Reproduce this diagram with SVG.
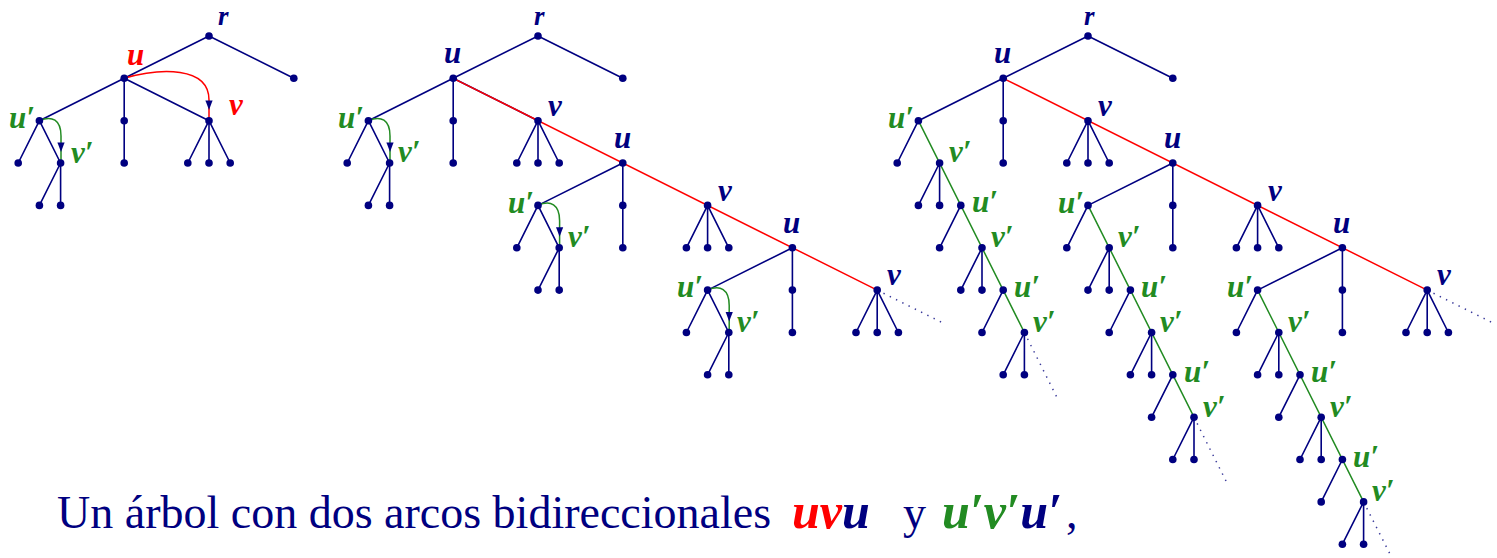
<svg xmlns="http://www.w3.org/2000/svg" xmlns:xlink="http://www.w3.org/1999/xlink" width="1497" height="558" viewBox="0 0 1497 558">
<style>
.e{stroke:#000080;stroke-width:1.6;fill:none;stroke-linecap:round}
.rl{stroke:#ff0000;stroke-width:1.5;fill:none}
.gl{stroke:#228b22;stroke-width:1.5;fill:none}
.dt{stroke:#3a3a9a;stroke-width:1.5;fill:none;stroke-dasharray:1.4 5.6}
.ah{fill:#000080}
.n{fill:#000080}
.lb{font-family:"Liberation Serif","DejaVu Serif",serif;font-weight:bold;font-style:italic;font-size:31px}
.rr{font-size:27px}
.nv{fill:#000080}.rd{fill:#ff0000}.gr{fill:#228b22}
.cap{font-family:"Liberation Serif","DejaVu Serif",serif;font-size:46px;fill:#000080}
.m{font-weight:bold;font-style:italic;font-size:50px}
</style>
<defs>
<circle id="d" r="3.8" class="n"/>
<path id="ah" d="M-3.6,-9.5 L3.6,-9.5 L0,0 Z"/>
</defs>
<rect width="1497" height="558" fill="#fff"/>
<g id="connectors">
<path class="e" d="M209,36L124.2,78.3M209,36L293.8,78.3M124.2,78.3L39.4,120.7M124.2,78.3V163M124.2,78.3L209,120.7M209,120.7L187.8,163M209,120.7V163M209,120.7L230.2,163M39.4,120.7L18.2,163M39.4,120.7L60.6,163M60.6,163L39.4,205.4M60.6,163V205.4"/>
<path class="e" d="M538,36L453.2,78.3M538,36L622.8,78.3M453.2,78.3L368.4,120.7M453.2,78.3V163M453.2,78.3L538,120.7M538,120.7L516.8,163M538,120.7V163M538,120.7L559.2,163M368.4,120.7L347.2,163M368.4,120.7L389.6,163M389.6,163L368.4,205.4M389.6,163V205.4M622.8,163L538,205.4M622.8,163V247.8M707.6,205.4L686.4,247.8M707.6,205.4V247.8M707.6,205.4L728.8,247.8M538,205.4L516.8,247.8M538,205.4L559.2,247.8M559.2,247.8L538,290.1M559.2,247.8V290.1M792.4,247.8L707.6,290.1M792.4,247.8V332.5M877.2,290.1L856,332.5M877.2,290.1V332.5M877.2,290.1L898.4,332.5M707.6,290.1L686.4,332.5M707.6,290.1L728.8,332.5M728.8,332.5L707.6,374.8M728.8,332.5V374.8"/>
<path class="e" d="M1088,36L1003.2,78.3M1088,36L1172.8,78.3M1003.2,78.3L918.4,120.7M1003.2,78.3V163M1088,120.7L1066.8,163M1088,120.7V163M1088,120.7L1109.2,163M918.4,120.7L897.2,163M939.6,163L918.4,205.4M939.6,163V205.4M960.8,205.4L939.6,247.8M982,247.8L960.8,290.1M982,247.8V290.1M1003.2,290.1L982,332.5M1024.4,332.5L1003.2,374.8M1024.4,332.5V374.8M1172.8,163L1088,205.4M1172.8,163V247.8M1257.6,205.4L1236.4,247.8M1257.6,205.4V247.8M1257.6,205.4L1278.8,247.8M1088,205.4L1066.8,247.8M1109.2,247.8L1088,290.1M1109.2,247.8V290.1M1130.4,290.1L1109.2,332.5M1151.6,332.5L1130.4,374.8M1151.6,332.5V374.8M1172.8,374.8L1151.6,417.2M1194,417.2L1172.8,459.5M1194,417.2V459.5M1342.4,247.8L1257.6,290.1M1342.4,247.8V332.5M1427.2,290.1L1406,332.5M1427.2,290.1V332.5M1427.2,290.1L1448.4,332.5M1257.6,290.1L1236.4,332.5M1278.8,332.5L1257.6,374.8M1278.8,332.5V374.8M1300,374.8L1278.8,417.2M1321.2,417.2L1300,459.5M1321.2,417.2V459.5M1342.4,459.5L1321.2,501.9M1363.6,501.9L1342.4,544.2M1363.6,501.9V544.2"/>
<path class="rl" d="M453.2,78.3L877.2,290.1M1003.2,78.3L1427.2,290.1"/>
<path class="gl" d="M918.4,120.7L1024.4,332.5M1088,205.4L1194,417.2M1257.6,290.1L1363.6,501.9"/>
<path class="dt" d="M877.2,290.1L942,322.5M1427.2,290.1L1492,322.5M1024.4,332.5L1057,397.5M1194,417.2L1226.5,482M1363.6,501.9L1392,558"/>
<path class="rl" d="M124.2,78.3C160,68 209,66 209,100V120.7"/>
<use href="#ah" class="ah" x="209" y="110"/>
<path class="gl" d="M39.4,120.7C52,115 61,120 61,136V163"/>
<use href="#ah" class="ah" x="61" y="152"/>
<path class="gl" d="M368.4,120.7C381,115 390,120 390,136V163"/>
<use href="#ah" class="ah" x="390" y="152"/>
<path class="gl" d="M538,205.4C550.6,199.7 559.6,204.7 559.6,220.7V247.8"/>
<use href="#ah" class="ah" x="559.6" y="236.7"/>
<path class="gl" d="M707.6,290.1C720.2,284.4 729.2,289.4 729.2,305.4V332.5"/>
<use href="#ah" class="ah" x="729.2" y="321.4"/>
</g>
<g id="tree1">
<g id="t1-r"><use href="#d" x="209" y="36"/><text class="lb rr nv" x="218" y="25">r</text></g>
<g id="t1-a"><use href="#d" x="293.8" y="78.3"/></g>
<g id="t1-u"><use href="#d" x="124.2" y="78.3"/><text class="lb rd" x="127" y="65">u</text></g>
<g id="t1-m1"><use href="#d" x="124.2" y="120.7"/></g>
<g id="t1-m2"><use href="#d" x="124.2" y="163"/></g>
<g id="t1-v"><use href="#d" x="209" y="120.7"/><text class="lb rd" x="229" y="115">v</text></g>
<g id="t1-v-c1"><use href="#d" x="187.8" y="163"/></g>
<g id="t1-v-c2"><use href="#d" x="209" y="163"/></g>
<g id="t1-v-c3"><use href="#d" x="230.2" y="163"/></g>
<g id="t1-up"><use href="#d" x="39.4" y="120.7"/><text class="lb gr" x="35" y="128" text-anchor="end">u′</text></g>
<g id="t1-up-l"><use href="#d" x="18.2" y="163"/></g>
<g id="t1-vp"><use href="#d" x="60.6" y="163"/><text class="lb gr" x="71" y="163">v′</text></g>
<g id="t1-vp-c1"><use href="#d" x="39.4" y="205.4"/></g>
<g id="t1-vp-c2"><use href="#d" x="60.6" y="205.4"/></g>
</g>
<g id="tree2">
<g id="t2-r"><use href="#d" x="538" y="36"/><text class="lb rr nv" x="534" y="25">r</text></g>
<g id="t2-a"><use href="#d" x="622.8" y="78.3"/></g>
<g id="t2-u1"><use href="#d" x="453.2" y="78.3"/><text class="lb nv" x="444" y="63">u</text></g>
<g id="t2-up1"><use href="#d" x="368.4" y="120.7"/><text class="lb gr" x="364" y="128" text-anchor="end">u′</text></g>
<g id="t2-m1a"><use href="#d" x="453.2" y="120.7"/></g>
<g id="t2-m1b"><use href="#d" x="453.2" y="163"/></g>
<g id="t2-v1"><use href="#d" x="538" y="120.7"/><text class="lb nv" x="548" y="116">v</text></g>
<g id="t2-v1c1"><use href="#d" x="516.8" y="163"/></g>
<g id="t2-v1c2"><use href="#d" x="538" y="163"/></g>
<g id="t2-v1c3"><use href="#d" x="559.2" y="163"/></g>
<g id="t2-up1l"><use href="#d" x="347.2" y="163"/></g>
<g id="t2-vp1"><use href="#d" x="389.6" y="163"/><text class="lb gr" x="398" y="162">v′</text></g>
<g id="t2-vp1c1"><use href="#d" x="368.4" y="205.4"/></g>
<g id="t2-vp1c2"><use href="#d" x="389.6" y="205.4"/></g>
<g id="t2-u2"><use href="#d" x="622.8" y="163"/><text class="lb nv" x="614" y="148">u</text></g>
<g id="t2-up2"><use href="#d" x="538" y="205.4"/><text class="lb gr" x="534" y="213" text-anchor="end">u′</text></g>
<g id="t2-m2a"><use href="#d" x="622.8" y="205.4"/></g>
<g id="t2-m2b"><use href="#d" x="622.8" y="247.8"/></g>
<g id="t2-v2"><use href="#d" x="707.6" y="205.4"/><text class="lb nv" x="718" y="201">v</text></g>
<g id="t2-v2c1"><use href="#d" x="686.4" y="247.8"/></g>
<g id="t2-v2c2"><use href="#d" x="707.6" y="247.8"/></g>
<g id="t2-v2c3"><use href="#d" x="728.8" y="247.8"/></g>
<g id="t2-up2l"><use href="#d" x="516.8" y="247.8"/></g>
<g id="t2-vp2"><use href="#d" x="559.2" y="247.8"/><text class="lb gr" x="568" y="247">v′</text></g>
<g id="t2-vp2c1"><use href="#d" x="538" y="290.1"/></g>
<g id="t2-vp2c2"><use href="#d" x="559.2" y="290.1"/></g>
<g id="t2-u3"><use href="#d" x="792.4" y="247.8"/><text class="lb nv" x="783" y="233">u</text></g>
<g id="t2-up3"><use href="#d" x="707.6" y="290.1"/><text class="lb gr" x="703" y="297" text-anchor="end">u′</text></g>
<g id="t2-m3a"><use href="#d" x="792.4" y="290.1"/></g>
<g id="t2-m3b"><use href="#d" x="792.4" y="332.5"/></g>
<g id="t2-v3"><use href="#d" x="877.2" y="290.1"/><text class="lb nv" x="887" y="285">v</text></g>
<g id="t2-v3c1"><use href="#d" x="856" y="332.5"/></g>
<g id="t2-v3c2"><use href="#d" x="877.2" y="332.5"/></g>
<g id="t2-v3c3"><use href="#d" x="898.4" y="332.5"/></g>
<g id="t2-up3l"><use href="#d" x="686.4" y="332.5"/></g>
<g id="t2-vp3"><use href="#d" x="728.8" y="332.5"/><text class="lb gr" x="737" y="332">v′</text></g>
<g id="t2-vp3c1"><use href="#d" x="707.6" y="374.8"/></g>
<g id="t2-vp3c2"><use href="#d" x="728.8" y="374.8"/></g>
</g>
<g id="tree3">
<g id="t3-r"><use href="#d" x="1088" y="36"/><text class="lb rr nv" x="1084" y="25">r</text></g>
<g id="t3-a"><use href="#d" x="1172.8" y="78.3"/></g>
<g id="t3-u1"><use href="#d" x="1003.2" y="78.3"/><text class="lb nv" x="994" y="63">u</text></g>
<g id="t3-m1a"><use href="#d" x="1003.2" y="120.7"/></g>
<g id="t3-m1b"><use href="#d" x="1003.2" y="163"/></g>
<g id="t3-v1"><use href="#d" x="1088" y="120.7"/><text class="lb nv" x="1098" y="116">v</text></g>
<g id="t3-v1c1"><use href="#d" x="1066.8" y="163"/></g>
<g id="t3-v1c2"><use href="#d" x="1088" y="163"/></g>
<g id="t3-v1c3"><use href="#d" x="1109.2" y="163"/></g>
<g id="t3-a-up1"><use href="#d" x="918.4" y="120.7"/><text class="lb gr" x="914" y="128" text-anchor="end">u′</text></g>
<g id="t3-a-up1l"><use href="#d" x="897.2" y="163"/></g>
<g id="t3-a-vp1"><use href="#d" x="939.6" y="163"/><text class="lb gr" x="949" y="162">v′</text></g>
<g id="t3-a-vp1c1"><use href="#d" x="918.4" y="205.4"/></g>
<g id="t3-a-vp1c2"><use href="#d" x="939.6" y="205.4"/></g>
<g id="t3-a-up2"><use href="#d" x="960.8" y="205.4"/><text class="lb gr" x="972" y="212">u′</text></g>
<g id="t3-a-up2l"><use href="#d" x="939.6" y="247.8"/></g>
<g id="t3-a-vp2"><use href="#d" x="982" y="247.8"/><text class="lb gr" x="991" y="247">v′</text></g>
<g id="t3-a-vp2c1"><use href="#d" x="960.8" y="290.1"/></g>
<g id="t3-a-vp2c2"><use href="#d" x="982" y="290.1"/></g>
<g id="t3-a-up3"><use href="#d" x="1003.2" y="290.1"/><text class="lb gr" x="1014" y="297">u′</text></g>
<g id="t3-a-up3l"><use href="#d" x="982" y="332.5"/></g>
<g id="t3-a-vp3"><use href="#d" x="1024.4" y="332.5"/><text class="lb gr" x="1033" y="332">v′</text></g>
<g id="t3-a-vp3c1"><use href="#d" x="1003.2" y="374.8"/></g>
<g id="t3-a-vp3c2"><use href="#d" x="1024.4" y="374.8"/></g>
<g id="t3-u2"><use href="#d" x="1172.8" y="163"/><text class="lb nv" x="1164" y="148">u</text></g>
<g id="t3-m2a"><use href="#d" x="1172.8" y="205.4"/></g>
<g id="t3-m2b"><use href="#d" x="1172.8" y="247.8"/></g>
<g id="t3-v2"><use href="#d" x="1257.6" y="205.4"/><text class="lb nv" x="1268" y="201">v</text></g>
<g id="t3-v2c1"><use href="#d" x="1236.4" y="247.8"/></g>
<g id="t3-v2c2"><use href="#d" x="1257.6" y="247.8"/></g>
<g id="t3-v2c3"><use href="#d" x="1278.8" y="247.8"/></g>
<g id="t3-b-up1"><use href="#d" x="1088" y="205.4"/><text class="lb gr" x="1084" y="213" text-anchor="end">u′</text></g>
<g id="t3-b-up1l"><use href="#d" x="1066.8" y="247.8"/></g>
<g id="t3-b-vp1"><use href="#d" x="1109.2" y="247.8"/><text class="lb gr" x="1118" y="247">v′</text></g>
<g id="t3-b-vp1c1"><use href="#d" x="1088" y="290.1"/></g>
<g id="t3-b-vp1c2"><use href="#d" x="1109.2" y="290.1"/></g>
<g id="t3-b-up2"><use href="#d" x="1130.4" y="290.1"/><text class="lb gr" x="1141" y="297">u′</text></g>
<g id="t3-b-up2l"><use href="#d" x="1109.2" y="332.5"/></g>
<g id="t3-b-vp2"><use href="#d" x="1151.6" y="332.5"/><text class="lb gr" x="1160" y="332">v′</text></g>
<g id="t3-b-vp2c1"><use href="#d" x="1130.4" y="374.8"/></g>
<g id="t3-b-vp2c2"><use href="#d" x="1151.6" y="374.8"/></g>
<g id="t3-b-up3"><use href="#d" x="1172.8" y="374.8"/><text class="lb gr" x="1184" y="382">u′</text></g>
<g id="t3-b-up3l"><use href="#d" x="1151.6" y="417.2"/></g>
<g id="t3-b-vp3"><use href="#d" x="1194" y="417.2"/><text class="lb gr" x="1203" y="417">v′</text></g>
<g id="t3-b-vp3c1"><use href="#d" x="1172.8" y="459.5"/></g>
<g id="t3-b-vp3c2"><use href="#d" x="1194" y="459.5"/></g>
<g id="t3-u3"><use href="#d" x="1342.4" y="247.8"/><text class="lb nv" x="1333" y="233">u</text></g>
<g id="t3-m3a"><use href="#d" x="1342.4" y="290.1"/></g>
<g id="t3-m3b"><use href="#d" x="1342.4" y="332.5"/></g>
<g id="t3-v3"><use href="#d" x="1427.2" y="290.1"/><text class="lb nv" x="1437" y="285">v</text></g>
<g id="t3-v3c1"><use href="#d" x="1406" y="332.5"/></g>
<g id="t3-v3c2"><use href="#d" x="1427.2" y="332.5"/></g>
<g id="t3-v3c3"><use href="#d" x="1448.4" y="332.5"/></g>
<g id="t3-c-up1"><use href="#d" x="1257.6" y="290.1"/><text class="lb gr" x="1253" y="297" text-anchor="end">u′</text></g>
<g id="t3-c-up1l"><use href="#d" x="1236.4" y="332.5"/></g>
<g id="t3-c-vp1"><use href="#d" x="1278.8" y="332.5"/><text class="lb gr" x="1288" y="332">v′</text></g>
<g id="t3-c-vp1c1"><use href="#d" x="1257.6" y="374.8"/></g>
<g id="t3-c-vp1c2"><use href="#d" x="1278.8" y="374.8"/></g>
<g id="t3-c-up2"><use href="#d" x="1300" y="374.8"/><text class="lb gr" x="1311" y="382">u′</text></g>
<g id="t3-c-up2l"><use href="#d" x="1278.8" y="417.2"/></g>
<g id="t3-c-vp2"><use href="#d" x="1321.2" y="417.2"/><text class="lb gr" x="1330" y="417">v′</text></g>
<g id="t3-c-vp2c1"><use href="#d" x="1300" y="459.5"/></g>
<g id="t3-c-vp2c2"><use href="#d" x="1321.2" y="459.5"/></g>
<g id="t3-c-up3"><use href="#d" x="1342.4" y="459.5"/><text class="lb gr" x="1353" y="467">u′</text></g>
<g id="t3-c-up3l"><use href="#d" x="1321.2" y="501.9"/></g>
<g id="t3-c-vp3"><use href="#d" x="1363.6" y="501.9"/><text class="lb gr" x="1372" y="501">v′</text></g>
<g id="t3-c-vp3c1"><use href="#d" x="1342.4" y="544.2"/></g>
<g id="t3-c-vp3c2"><use href="#d" x="1363.6" y="544.2"/></g>
</g>
<g id="caption">
<text class="cap" x="57" y="528">Un árbol con dos arcos bidireccionales</text>
<text class="cap m" x="792" y="528"><tspan fill="#ff0000">uv</tspan><tspan>u</tspan></text>
<text class="cap" x="903" y="528">y</text>
<text class="cap m" x="942" y="528"><tspan fill="#228b22">u′v′</tspan><tspan>u′</tspan></text>
<text class="cap" x="1066" y="528">,</text>
</g>
</svg>
